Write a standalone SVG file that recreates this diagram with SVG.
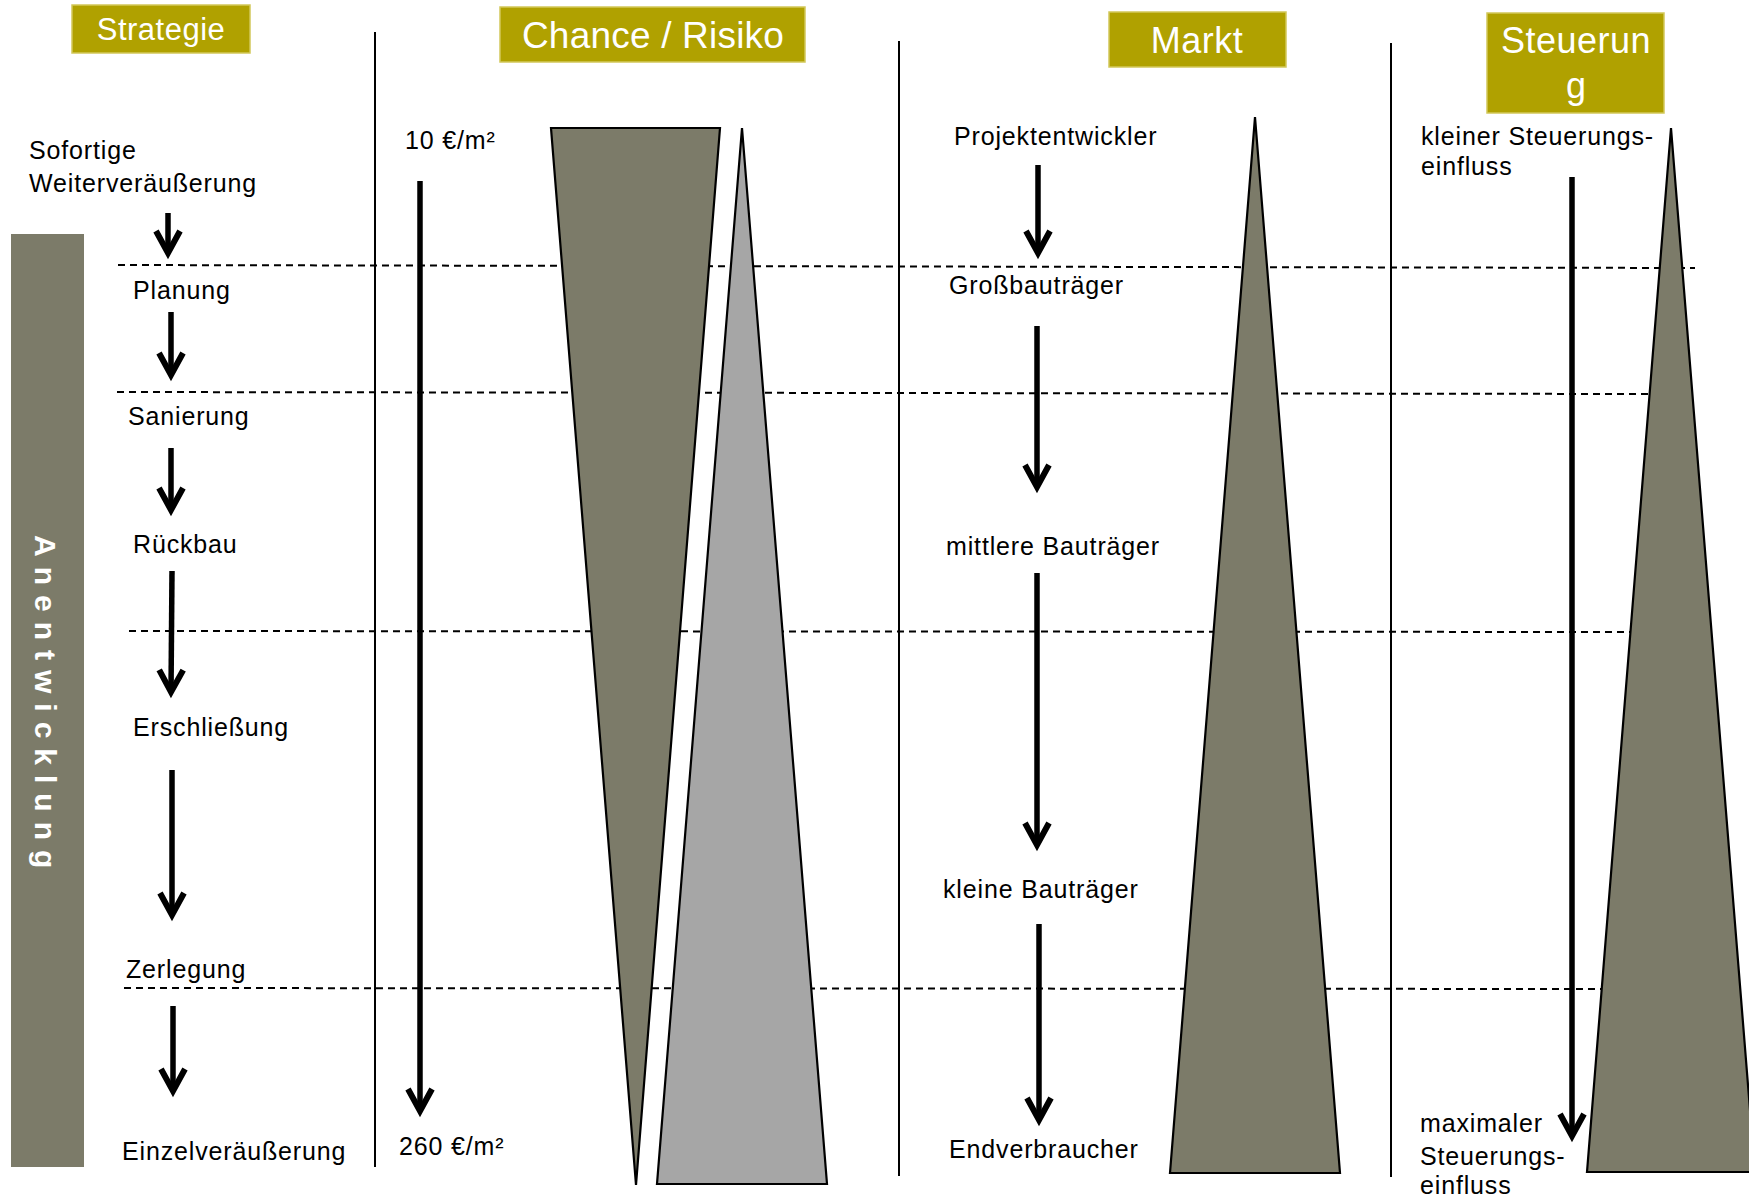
<svg xmlns="http://www.w3.org/2000/svg" width="1749" height="1196" viewBox="0 0 1749 1196">
  <defs>
    <style>
      .hdr-box { fill: #B0A100; stroke: #D2C85A; stroke-width: 1.5; }
      .hdr { font-family: "Liberation Sans", Arial, sans-serif; fill: #FFFFFF; text-anchor: middle; }
      .lbl { font-family: "Liberation Sans", Arial, sans-serif; font-size: 25px; letter-spacing: 0.85px; fill: #000000; }
      .sep { stroke: #000000; stroke-width: 2; fill: none; }
      .dash { stroke: #000000; stroke-width: 2; stroke-dasharray: 7 5; fill: none; }
      .arrow { stroke: #000000; stroke-width: 5.5; fill: none; marker-end: url(#head); }
      .wedge-dark { fill: #7C7B69; stroke: #000000; stroke-width: 2.2; stroke-linejoin: miter; }
      .wedge-light { fill: #A6A6A6; stroke: #000000; stroke-width: 2.2; stroke-linejoin: miter; }
    </style>
    <marker id="head" markerUnits="userSpaceOnUse" viewBox="-30 -16 40 32" refX="0" refY="0" markerWidth="40" markerHeight="32" orient="auto" overflow="visible">
      <path d="M-22,-12 L0,0 L-22,12" fill="none" stroke="#000000" stroke-width="6"/>
    </marker>
  </defs>

  <rect width="1749" height="1196" fill="#FFFFFF"/>

  <!-- phase separators -->
  <g id="separators">
    <line class="dash" x1="118" y1="265" x2="1695" y2="268"/>
    <line class="dash" x1="117" y1="392" x2="1650" y2="394"/>
    <line class="dash" x1="129" y1="631" x2="1632" y2="632"/>
    <line class="dash" x1="124" y1="988" x2="1603" y2="989"/>
  </g>

  <!-- column dividers -->
  <g id="dividers">
    <line class="sep" x1="375" y1="32" x2="375" y2="1167"/>
    <line class="sep" x1="899" y1="41" x2="899" y2="1176"/>
    <line class="sep" x1="1391" y1="43" x2="1391" y2="1177"/>
  </g>

  <!-- column headers -->
  <g id="hdr-strategie">
    <rect class="hdr-box" x="72" y="5" width="178" height="48"/>
    <text class="hdr" x="161" y="40" font-size="31" letter-spacing="0.5">Strategie</text>
  </g>
  <g id="hdr-chance">
    <rect class="hdr-box" x="500" y="7" width="305" height="55"/>
    <text class="hdr" x="653" y="48" font-size="37" letter-spacing="0.2">Chance / Risiko</text>
  </g>
  <g id="hdr-markt">
    <rect class="hdr-box" x="1109" y="12" width="177" height="55"/>
    <text class="hdr" x="1197" y="53" font-size="36" letter-spacing="0.5">Markt</text>
  </g>
  <g id="hdr-steuerung">
    <rect class="hdr-box" x="1487" y="13" width="177" height="100"/>
    <text class="hdr" x="1576" y="53" font-size="36" letter-spacing="0.5">Steuerun</text>
    <text class="hdr" x="1576" y="98" font-size="36">g</text>
  </g>

  <!-- side bar -->
  <g id="anentwicklung">
    <rect x="11" y="234" width="73" height="933" fill="#7C7B69"/>
    <text transform="translate(35,535) rotate(90)" font-family="'Liberation Sans', Arial, sans-serif" font-size="30" font-weight="bold" letter-spacing="10" fill="#FFFFFF">Anentwicklung</text>
  </g>

  <!-- wedges -->
  <g id="wedge-chance">
    <polygon class="wedge-dark" points="551,128 720,128 636,1185"/>
  </g>
  <g id="wedge-risiko">
    <polygon class="wedge-light" points="742,128 827,1184 657,1184"/>
  </g>
  <g id="wedge-markt">
    <polygon class="wedge-dark" points="1255,117 1340,1173 1170,1173"/>
  </g>
  <g id="wedge-steuerung">
    <polygon class="wedge-dark" points="1671,128 1755,1172 1587,1172"/>
  </g>

  <!-- strategy steps -->
  <g id="strategie-steps">
    <text class="lbl" x="29" y="159">Sofortige</text>
    <text class="lbl" x="29" y="192">Weiterveräußerung</text>
    <text class="lbl" x="133" y="299">Planung</text>
    <text class="lbl" x="128" y="425">Sanierung</text>
    <text class="lbl" x="133" y="553">Rückbau</text>
    <text class="lbl" x="133" y="736">Erschließung</text>
    <text class="lbl" x="126" y="978">Zerlegung</text>
    <text class="lbl" x="122" y="1160">Einzelveräußerung</text>
  </g>

  <!-- price labels -->
  <g id="preis">
    <text class="lbl" x="405" y="149">10 €/m²</text>
    <text class="lbl" x="399" y="1155">260 €/m²</text>
  </g>

  <!-- market players -->
  <g id="markt-akteure">
    <text class="lbl" x="954" y="145">Projektentwickler</text>
    <text class="lbl" x="949" y="294">Großbauträger</text>
    <text class="lbl" x="946" y="555">mittlere Bauträger</text>
    <text class="lbl" x="943" y="898">kleine Bauträger</text>
    <text class="lbl" x="949" y="1158">Endverbraucher</text>
  </g>

  <!-- control influence -->
  <g id="steuerung-text">
    <text class="lbl" x="1421" y="145">kleiner Steuerungs-</text>
    <text class="lbl" x="1421" y="175">einfluss</text>
    <text class="lbl" x="1420" y="1132">maximaler</text>
    <text class="lbl" x="1420" y="1165">Steuerungs-</text>
    <text class="lbl" x="1420" y="1194">einfluss</text>
  </g>

  <!-- arrows -->
  <g id="connectors">
    <path class="arrow" d="M168,213 L168,253"/>
    <path class="arrow" d="M171,312 L171,375"/>
    <path class="arrow" d="M171,448 L171,510"/>
    <path class="arrow" d="M172,571 L171,692"/>
    <path class="arrow" d="M172,770 L172,915"/>
    <path class="arrow" d="M173,1006 L173,1091"/>
    <path class="arrow" d="M420,181 L420,1111"/>
    <path class="arrow" d="M1038,165 L1038,253"/>
    <path class="arrow" d="M1037,326 L1037,487"/>
    <path class="arrow" d="M1037,573 L1037,845"/>
    <path class="arrow" d="M1039,924 L1039,1120"/>
    <path class="arrow" d="M1572,177 L1572,1136"/>
  </g>
</svg>
